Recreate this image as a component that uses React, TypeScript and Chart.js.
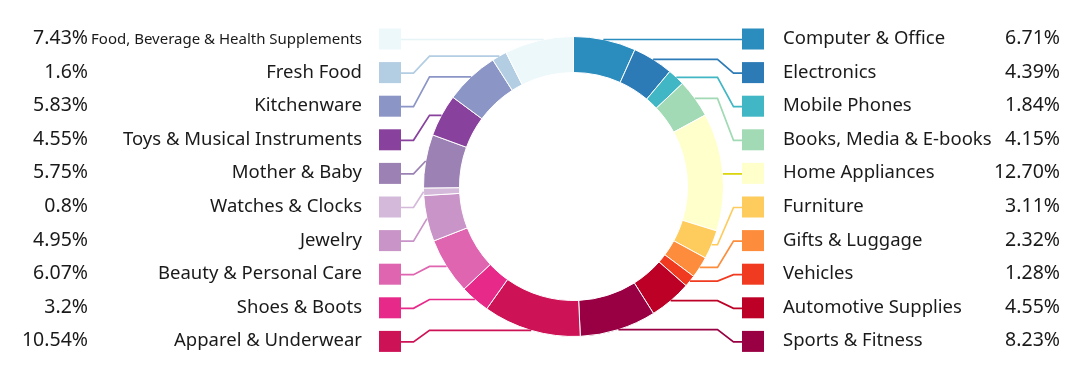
import React, { useEffect, useRef } from "react";
import { Chart, registerables } from "chart.js";

Chart.register(...registerables);

// Clockwise from 12 o'clock
const categories = [
  "Computer & Office",
  "Electronics",
  "Mobile Phones",
  "Books, Media & E-books",
  "Home Appliances",
  "Furniture",
  "Gifts & Luggage",
  "Vehicles",
  "Automotive Supplies",
  "Sports & Fitness",
  "Apparel & Underwear",
  "Shoes & Boots",
  "Beauty & Personal Care",
  "Jewelry",
  "Watches & Clocks",
  "Mother & Baby",
  "Toys & Musical Instruments",
  "Kitchenware",
  "Fresh Food",
  "Food, Beverage & Health Supplements",
];

const values = [
  6.71, 4.39, 1.84, 4.15, 12.7, 3.11, 2.32, 1.28, 4.55, 8.23,
  10.54, 3.2, 6.07, 4.95, 0.8, 5.75, 4.55, 5.83, 1.6, 7.43,
];

const pctLabels = [
  "6.71%", "4.39%", "1.84%", "4.15%", "12.70%", "3.11%", "2.32%", "1.28%", "4.55%", "8.23%",
  "10.54%", "3.2%", "6.07%", "4.95%", "0.8%", "5.75%", "4.55%", "5.83%", "1.6%", "7.43%",
];

const colors = [
  "#2B8CBE", "#2C7BB6", "#41B6C4", "#A1DAB4", "#FFFFCC", "#FECC5C", "#FD8D3C", "#F03B20", "#BD0026", "#980043",
  "#CE1256", "#E7298A", "#DF65B0", "#C994C7", "#D4B9DA", "#9C82B4", "#88419D", "#8C96C6", "#B3CDE3", "#EDF8FB",
];

const lineColors = [
  "#2B8CBE", "#2C7BB6", "#41B6C4", "#A1DAB4", "#D9D300", "#FECC5C", "#FD8D3C", "#F03B20", "#BD0026", "#980043",
  "#CE1256", "#E7298A", "#DF65B0", "#C994C7", "#D4B9DA", "#9C82B4", "#88419D", "#8C96C6", "#B3CDE3", "#E6F3F7",
];

const FONT = '"Noto Sans", "DejaVu Sans", sans-serif';

const labelPlugin = {
  id: "sideLabels",
  afterDatasetsDraw(chart: any) {
    const ctx = chart.ctx as CanvasRenderingContext2D;
    const meta = chart.getDatasetMeta(0);
    const half = categories.length / 2;
    const row0 = 39.5;
    const rowStep = 33.6;
    const sq = 22;
    const rightSqX = 742;
    const leftSqX = 379;
    ctx.save();
    meta.data.forEach((arc: any, i: number) => {
      const p = arc.getProps(["x", "y", "startAngle", "endAngle", "outerRadius"], true);
      const mid = (p.startAngle + p.endAngle) / 2;
      const r = p.outerRadius;
      let ax = p.x + Math.cos(mid) * r;
      let ay = p.y + Math.sin(mid) * r;
      const right = i < half;
      const row = right ? i : categories.length - 1 - i;
      const ry = row0 + row * rowStep;
      const side = right ? 1 : -1;
      if (Math.abs(ay - ry) < 5) {
        ay = ry;
        ax = p.x + side * Math.sqrt(Math.max(r * r - (ry - p.y) ** 2, 0));
      }
      const sqEdge = right ? rightSqX : leftSqX + sq;
      const e1 = p.x + side * 144;
      const e2 = p.x + side * 160;
      ctx.strokeStyle = lineColors[i];
      ctx.lineWidth = 1.7;
      ctx.lineJoin = "miter";
      ctx.beginPath();
      ctx.moveTo(ax, ay);
      if (ay !== ry) {
        const x1 = right ? Math.max(ax, e1) : Math.min(ax, e1);
        ctx.lineTo(x1, ay);
        ctx.lineTo(e2, ry);
      }
      ctx.lineTo(sqEdge, ry);
      ctx.stroke();

      // legend square
      ctx.fillStyle = colors[i];
      const sx = right ? rightSqX : leftSqX;
      ctx.fillRect(sx, ry - sq / 2, sq, sq - 1);

      // texts
      ctx.fillStyle = "#1a1a1a";
      ctx.textBaseline = "alphabetic";
      const small = categories[i].length > 30;
      ctx.font = `${small ? 15 : 18.5}px ${FONT}`;
      if (right) {
        ctx.textAlign = "left";
        ctx.fillText(categories[i], 783, ry + 4.5);
        ctx.font = `19.5px ${FONT}`;
        ctx.textAlign = "right";
        ctx.fillText(pctLabels[i], 1060, ry + 4.5);
      } else {
        ctx.textAlign = "right";
        ctx.fillText(categories[i], 362, ry + (small ? 4 : 4.5));
        ctx.font = `19.5px ${FONT}`;
        ctx.fillText(pctLabels[i], 88, ry + 4.5);
      }
    });
    ctx.restore();
  },
};

export default function App() {
  const ref = useRef<HTMLCanvasElement | null>(null);
  useEffect(() => {
    if (!ref.current) return;
    const chart = new Chart(ref.current, {
      type: "doughnut",
      data: {
        labels: categories,
        datasets: [
          {
            data: values,
            backgroundColor: colors,
            borderColor: "#ffffff",
            borderWidth: 1,
          },
        ],
      },
      options: {
        responsive: false,
        animation: false,
        devicePixelRatio: 1,
        cutout: "76%",
        layout: { padding: { left: 423, right: 356, top: 36, bottom: 34 } },
        plugins: {
          legend: { display: false },
          tooltip: { enabled: false },
        },
      },
      plugins: [labelPlugin],
    });
    return () => chart.destroy();
  }, []);
  return (
    <div style={{ position: "fixed", left: 0, top: 0, width: 1080, height: 371, background: "#fff" }}>
      <canvas ref={ref} width={1080} height={371} style={{ width: 1080, height: 371 }} />
    </div>
  );
}
